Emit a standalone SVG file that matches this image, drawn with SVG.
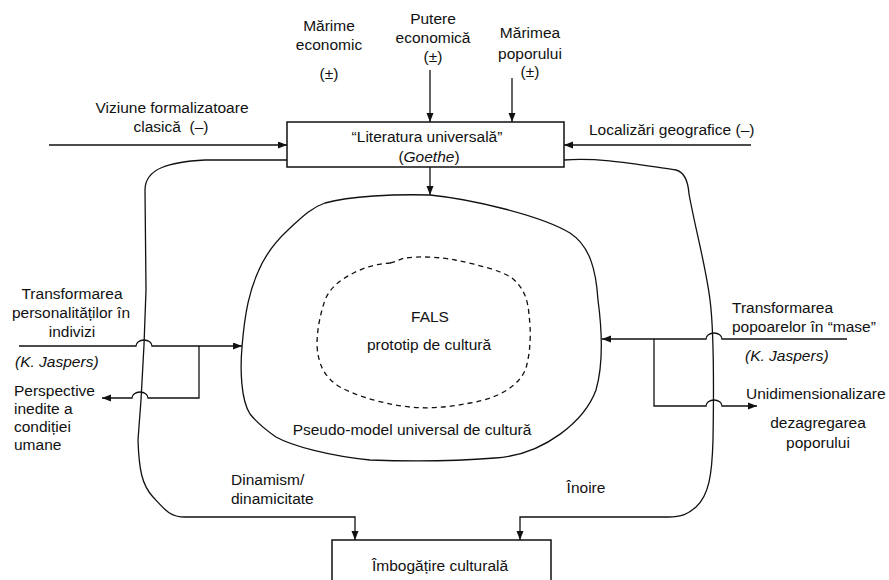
<svg xmlns="http://www.w3.org/2000/svg" width="889" height="580" viewBox="0 0 889 580">
<style>
text{font-family:"Liberation Sans",Arial,sans-serif;font-size:15.5px;fill:#111}
.c{text-anchor:middle}
.i{font-style:italic}
.ln{fill:none;stroke:#111;stroke-width:1.3}
.bx{fill:#fff;stroke:#111;stroke-width:1.5}
.arr{fill:none;stroke:#111;stroke-width:1.3;marker-end:url(#ah)}
</style>
<defs>
<marker id="ah" markerUnits="userSpaceOnUse" markerWidth="10" markerHeight="8" refX="9" refY="3.5" orient="auto">
<path d="M0,0 L9,3.5 L0,7 Z" fill="#111"/>
</marker>
</defs>
<rect width="889" height="580" fill="#fff"/>

<g id="connectors">
<path class="arr" d="M430,70 L430,122"/>
<path class="arr" d="M512,78 L512,122"/>
<path class="arr" d="M49,145 L287,145"/>
<path class="arr" d="M751,145 L564,145"/>
<path class="arr" d="M430,167 L430,195"/>
<path class="arr" d="M287,160 L205,160 C170,162 145,168 145,190 L146,290 L144,345 L141,400 L138,440 C139,470 142,485 153,497 C165,510 170,517 185,517 L355,517 L355,540"/>
<path class="arr" d="M564,160 C600,157 640,165 676,170 C684,172 688,180 689,194 C696,232 706,267 710,300 C714,330 714,380 713,440 C712,475 709,495 696,507 C688,514 682,517 668,517 L520,517 L520,540"/>
<path class="arr" d="M19,346 L136,346 A8,6 0 0 1 152,346 L242,346"/>
<path class="arr" d="M199,346 L199,398 L148,398 A8,6 0 0 0 132,398 L102,398"/>
<path class="arr" d="M847,339 L722,339 A8,6 0 0 0 706,339 L602,339"/>
<path class="arr" d="M654,339 L654,406 L706,406 A8,6 0 0 1 722,406 L757,406"/>
</g>

<g id="top-box">
<rect class="bx" x="287" y="122" width="277" height="45"/>
<text class="c" x="427" y="142">“Literatura universală”</text>
<text class="c" x="429" y="162">(<tspan class="i">Goethe</tspan>)</text>
</g>

<g id="pseudo-model">
<path class="ln" d="M430,195 C470,199 540,215 570,233 C590,246 596,270 598,300 C602,330 604,362 596,390 C585,420 545,455 495,458 C470,460 420,462 370,460 C330,456 292,446 276,437 C266,430 258,424 250,414 C241,400 240,370 242,347 C245,310 250,290 258,272 C265,255 275,242 288,230 C300,219 310,208 325,203 C350,196 395,194 430,195 Z"/>
<text class="c" x="412" y="435">Pseudo-model universal de cultură</text>
</g>

<g id="fals">
<path class="ln" stroke-dasharray="5,4" d="M390,263 C396,262 400,259 405,258 C420,256 440,257 455,260 C475,264 500,270 512,278 C524,288 528,300 529,315 C531,330 531,350 526,368 C520,385 500,398 470,403 C450,407 430,409 410,407 C390,405 360,398 340,387 C325,378 318,365 317,345 C317,330 320,315 325,300 C330,288 340,280 350,275 C362,268 375,264 390,263 Z"/>
<text class="c" x="430" y="322">FALS</text>
<text class="c" x="429" y="350">prototip de cultură</text>
</g>

<g id="bottom-box">
<rect class="bx" x="332" y="540" width="219" height="50"/>
<text class="c" x="440" y="571">Îmbogățire culturală</text>
</g>

<g id="marime-economic">
<text class="c" x="329" y="31">Mărime</text>
<text class="c" x="329" y="50">economic</text>
<text class="c" x="329" y="79">(±)</text>
</g>
<g id="putere-economica">
<text class="c" x="433" y="24">Putere</text>
<text class="c" x="433" y="43">economică</text>
<text class="c" x="433" y="62">(±)</text>
</g>
<g id="marimea-poporului">
<text class="c" x="530" y="38">Mărimea</text>
<text class="c" x="530" y="59">poporului</text>
<text class="c" x="530" y="77">(±)</text>
</g>
<g id="viziune">
<text class="c" x="172" y="113">Viziune formalizatoare</text>
<text class="c" x="171" y="132" xml:space="preserve">clasică  (–)</text>
</g>
<g id="localizari">
<text x="589" y="135">Localizări geografice (–)</text>
</g>
<g id="transformarea-personalitatilor">
<text class="c" x="72" y="299">Transformarea</text>
<text class="c" x="71" y="318">personalităților în</text>
<text class="c" x="72" y="337">indivizi</text>
<text class="i" x="15" y="367">(K. Jaspers)</text>
</g>
<g id="perspective">
<text x="14" y="396">Perspective</text>
<text x="14" y="414">inedite a</text>
<text x="14" y="432">condiției</text>
<text x="14" y="450">umane</text>
</g>
<g id="transformarea-popoarelor">
<text x="732" y="313">Transformarea</text>
<text x="732" y="332">popoarelor în “mase”</text>
<text class="i" x="745" y="361">(K. Jaspers)</text>
</g>
<g id="unidimensionalizare">
<text x="746" y="399">Unidimensionalizare</text>
<text class="c" x="818" y="428">dezagregarea</text>
<text class="c" x="818" y="448">poporului</text>
</g>
<g id="dinamism">
<text x="231" y="485">Dinamism/</text>
<text x="231" y="504">dinamicitate</text>
</g>
<g id="inoire">
<text class="c" x="586" y="493">Înoire</text>
</g>
</svg>
